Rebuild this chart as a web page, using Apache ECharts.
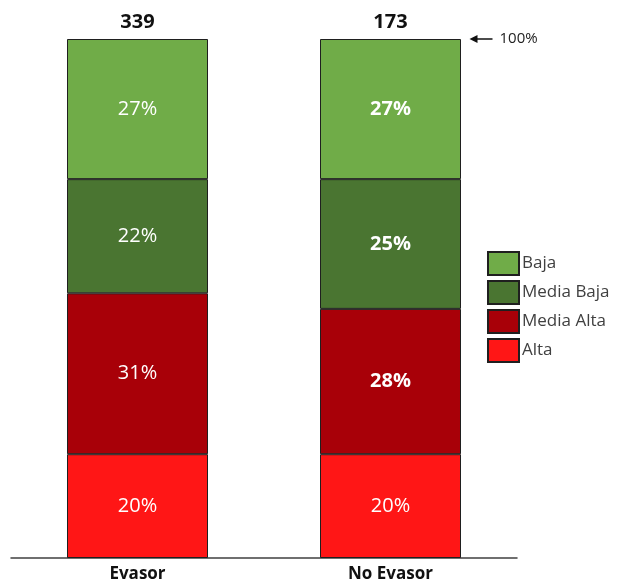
<!DOCTYPE html>
<html>
<head>
<meta charset="utf-8">
<script src="https://cdn.jsdelivr.net/npm/echarts@6/dist/echarts.min.js"></script>
<style>
  html, body { margin: 0; padding: 0; background: #fff; }
  #chart { width: 623px; height: 584px; }
</style>
</head>
<body>
<div id="chart"></div>
<script>
// Stacked 100% bars: risk level distribution per group
const categories = ['Evasor', 'No Evasor'];
const totals = ['339', '173'];
const alta = [20, 20];
const mediaAlta = [31, 28];
const mediaBaja = [22, 25];
const baja = [27, 27];
// which group's labels are bold, per level
const boldAlta = [false, false];
const boldMediaAlta = [false, true];
const boldMediaBaja = [false, true];
const boldBaja = [false, true];

const FONT = '"Open Sans", "Noto Sans", sans-serif';

function makeSeries(name, values, bold, color) {
  return {
    name: name,
    type: 'bar',
    stack: 'total',
    barWidth: 141,
    itemStyle: { color: color, borderColor: '#1f1f1f', borderWidth: 1 },
    label: {
      show: true,
      position: 'inside',
      color: '#ffffff',
      fontSize: 20,
      fontFamily: FONT,
      formatter: p => p.value + '%'
    },
    data: values.map((v, i) => ({
      value: v,
      label: { fontWeight: bold[i] ? 'bold' : 'normal' }
    }))
  };
}

const chart = echarts.init(document.getElementById('chart'));
chart.setOption({
  animation: false,
  grid: { left: 11, top: 39, width: 506, height: 519, containLabel: false },
  legend: {
    orient: 'vertical',
    left: 487,
    top: 251,
    padding: 0,
    icon: 'rect',
    itemWidth: 31,
    itemHeight: 23,
    itemGap: 4,
    data: ['Baja', 'Media Baja', 'Media Alta', 'Alta'],
    textStyle: { fontSize: 17, color: '#404040', fontFamily: FONT, padding: [0, 0, 0, -2] },
    selectedMode: false
  },
  xAxis: [
    {
      type: 'category',
      data: categories,
      position: 'bottom',
      axisLine: { lineStyle: { color: '#404040', width: 1.5 } },
      axisTick: { show: false },
      axisLabel: { color: '#111', fontSize: 17, fontWeight: 'bold', fontFamily: FONT, margin: 8 }
    },
    {
      type: 'category',
      data: totals,
      position: 'top',
      axisLine: { show: false },
      axisTick: { show: false },
      axisLabel: { color: '#111', fontSize: 20, fontWeight: 'bold', fontFamily: FONT, margin: 7 }
    }
  ],
  yAxis: {
    type: 'value',
    min: 0,
    max: 100,
    show: false,
    splitLine: { show: false }
  },
  series: [
    makeSeries('Alta', alta, boldAlta, '#ff1616'),
    makeSeries('Media Alta', mediaAlta, boldMediaAlta, '#a80008'),
    makeSeries('Media Baja', mediaBaja, boldMediaBaja, '#4a7531'),
    makeSeries('Baja', baja, boldBaja, '#70ac48')
  ]
});

// "100%" pointer beside the top of the last bar
const fullPt = chart.convertToPixel({ gridIndex: 0 }, [categories.length - 1, 100]);
const ax = fullPt[0] + 70 + 9;
const ay = fullPt[1];
chart.setOption({
  graphic: [
    { type: 'line', shape: { x1: ax + 4, y1: ay, x2: ax + 23, y2: ay },
      style: { stroke: '#111', lineWidth: 1.5 } },
    { type: 'polygon', shape: { points: [[ax, ay], [ax + 8, ay - 4], [ax + 8, ay + 4]] },
      style: { fill: '#111' } },
    { type: 'text', x: ax + 30, y: ay, style: { text: '100%', fill: '#222', fontSize: 15,
      fontFamily: FONT, verticalAlign: 'middle' } }
  ]
});
</script>
</body>
</html>
